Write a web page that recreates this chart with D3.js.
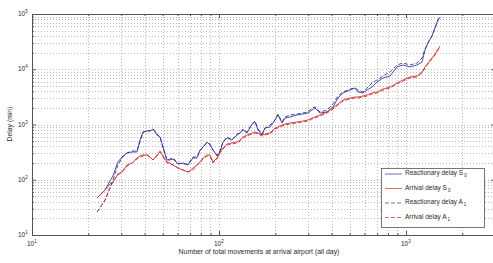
<!DOCTYPE html>
<html><head><meta charset="utf-8">
<script src="https://cdn.jsdelivr.net/npm/d3@7"></script>
<style>
body{margin:0;background:#fff}
svg text{font-family:"Liberation Sans",Arial,sans-serif;fill:#2a2a2a}
</style>
</head><body>
<svg id="c" width="493" height="263"></svg>
<script>
// Number of total movements at arrival airport (all day)
const movements = [22.3,24.6,26.1,27.1,28.8,30.3,32.2,34.3,36.4,37.8,39.2,41.2,42.8,44.4,46.6,48.4,50.2,52.7,54.7,56.8,60.3,64.2,68.3,72.6,76.3,79.1,82.1,86.3,89.5,92.9,97.6,101.2,105,110.4,117.4,124.9,129.6,134.4,141.2,150.2,155.8,161.7,169.8,176.2,187.4,199.3,206.8,217.3,225.5,239.8,261.3,281.4,299.2,314.4,326.2,346.8,378.1,407.1,432.9,460.3,501.7,533.8,553.9,589,618.6,658,699.7,753.4,821.1,895.2,963.9,1050.5,1145,1218,1264,1311,1377,1429,1483,1520];
// Delay (min)
const reactionaryS0 = [47,65,95,117,210,258,305,318,318,524,732,763,763,829,646,594,392,228,228,237,193,201,185,248,248,346,392,482,426,346,269,318,482,570,524,646,702,795,702,1021,1110,795,646,864,901,1206,1486,1064,1311,1367,1486,1549,1615,1830,1989,1615,1684,2074,3017,3717,4210,4577,3875,3717,4210,4772,5878,6944,7548,10980,11940,10980,11940,13530,22300,30000,40000,55800,78000,88000];
const arrivalS0 = [47,65,84,91,127,138,185,201,248,269,281,281,258,228,281,331,269,210,201,185,163,150,138,163,185,210,248,281,281,210,248,318,376,444,463,482,524,594,646,702,732,702,646,673,702,864,901,979,1021,1064,1110,1157,1206,1311,1367,1486,1684,1989,2350,2776,3017,3146,3146,3280,3420,3717,3875,4390,4772,5638,6391,7240,7548,8917,10980,12970,15980,18880,23260,26350];
const reactionaryA1 = [26,43,71,99,185,248,305,331,331,482,702,795,763,829,673,594,376,228,237,248,201,193,193,258,258,331,392,463,444,346,281,331,482,594,524,673,702,829,732,1021,1157,829,673,864,979,1206,1549,1110,1367,1486,1549,1615,1684,1989,2074,1684,1830,2350,3280,3875,4390,4577,4210,3875,4577,5638,6391,7548,8917,11940,12970,11940,12970,15980,23260,30000,40000,55800,78000,88000];
const arrivalA1 = [26,43,71,91,122,138,177,201,237,258,269,281,258,228,269,318,258,201,193,185,163,150,138,150,185,201,237,269,269,201,237,305,360,426,444,463,503,570,619,673,702,673,619,646,673,829,864,940,979,1021,1064,1110,1157,1257,1311,1425,1615,1908,2254,2663,2894,3017,3017,3146,3280,3565,3717,4210,4577,5408,6128,6944,7240,8555,10534,12450,15330,18110,22300,25280];

const seriesLabels = ["Reactionary delay S","Arrival delay S","Reactionary delay A","Arrival delay A"];
const seriesSubscripts = ["0","0","1","1"];
const xTickExponents = [1,2,3];
const yTickExponents = [1,2,3,4,5];

const seriesData = [reactionaryS0, arrivalS0, reactionaryA1, arrivalA1];
const seriesColor = ["#2b3391","#cc2b2b","#2b3391","#cc2b2b"];
const seriesDash = [null,null,"4,2","4,2"];

const svg = d3.select("#c");
const L = 32, T = 14, B = 235;
const x = d3.scaleLog().domain([10, 3000]).range([L, L + 187 * Math.log10(300)]);
const y = d3.scaleLog().domain([10, 1e5]).range([B, T]);
const R = x.range()[1];

// grid
const g = svg.append("g");
const xt = x.ticks(), yt = y.ticks();
g.selectAll(".gx").data(xt.filter(v => v > 10)).join("line")
  .attr("x1", d => Math.round(x(d)) + 0.5).attr("x2", d => Math.round(x(d)) + 0.5)
  .attr("y1", T).attr("y2", B)
  .attr("stroke", "#a8a8a8").attr("stroke-width", 0.8).attr("stroke-dasharray", "1,2");
g.selectAll(".gy").data(yt.filter(v => v > 10 && v < 1e5)).join("line")
  .attr("y1", d => Math.round(y(d)) + 0.5).attr("y2", d => Math.round(y(d)) + 0.5)
  .attr("x1", L).attr("x2", R)
  .attr("stroke", "#a8a8a8").attr("stroke-width", 0.8).attr("stroke-dasharray", "1,2");

// axes
const isMajor = v => Math.abs(Math.log10(v) - Math.round(Math.log10(v))) < 1e-9;
function styleAxis(sel) {
  sel.select(".domain").attr("stroke", "#555");
  sel.selectAll(".tick line").attr("stroke", "#555")
    .attr("y2", function(d){ const v = +d3.select(this).attr("y2"); return v ? (isMajor(d) ? v : v/2) : v; })
    .attr("x2", function(d){ const v = +d3.select(this).attr("x2"); return v ? (isMajor(d) ? v : v/2) : v; });
  sel.selectAll(".tick text").remove();
}
svg.append("g").attr("transform", `translate(0,${B})`)
  .call(d3.axisBottom(x).tickValues(xt).tickSize(-4).tickSizeOuter(0)).call(styleAxis);
svg.append("g").attr("transform", `translate(0,${T})`)
  .call(d3.axisTop(x).tickValues(xt).tickSize(-4).tickSizeOuter(0)).call(styleAxis);
svg.append("g").attr("transform", `translate(${L},0)`)
  .call(d3.axisLeft(y).tickValues(yt).tickSize(-4).tickSizeOuter(0)).call(styleAxis);
svg.append("g").attr("transform", `translate(${R},0)`)
  .call(d3.axisRight(y).tickValues(yt).tickSize(-4).tickSizeOuter(0)).call(styleAxis);

// tick labels with superscripts
xTickExponents.forEach(e => {
  const t = svg.append("text").attr("x", x(Math.pow(10, e)) - 5).attr("y", B + 11)
    .attr("font-size", 6.5);
  t.append("tspan").text("10");
  t.append("tspan").attr("dy", -3).attr("font-size", 4.5).text(e);
});
yTickExponents.forEach(e => {
  const t = svg.append("text").attr("x", L - 14).attr("y", y(Math.pow(10, e)) + 2)
    .attr("font-size", 6.5);
  t.append("tspan").text("10");
  t.append("tspan").attr("dy", -3).attr("font-size", 4.5).text(e);
});

// lines
const line = d3.line().x((d, i) => x(movements[i])).y(d => y(d));
const plot = svg.append("g");
seriesData.forEach((s, k) => {
  plot.append("path").datum(s).attr("d", line)
    .attr("fill", "none").attr("stroke", seriesColor[k]).attr("stroke-width", 1)
    .attr("stroke-dasharray", seriesDash[k]).attr("stroke-opacity", 0.85);
});

// axis labels
svg.append("text").attr("x", 259).attr("y", 254).attr("text-anchor", "middle")
  .attr("font-size", 6.9).text("Number of total movements at arrival airport (all day)");
svg.append("text").attr("transform", "translate(12,124) rotate(-90)").attr("text-anchor", "middle")
  .attr("font-size", 6.8).text("Delay (min)");

// legend
const lg = svg.append("g");
lg.append("rect").attr("x", 381.5).attr("y", 168.5).attr("width", 103).attr("height", 59)
  .attr("fill", "#fff").attr("stroke", "#555").attr("stroke-width", 0.8);
seriesLabels.forEach((lab, k) => {
  const yy = 174 + k * 14.5;
  lg.append("line").attr("x1", 385).attr("x2", 402).attr("y1", yy).attr("y2", yy)
    .attr("stroke", seriesColor[k]).attr("stroke-width", 1).attr("stroke-dasharray", seriesDash[k])
    .attr("stroke-opacity", 0.7);
  const t = lg.append("text").attr("x", 405).attr("y", yy + 1).attr("font-size", 6.5);
  t.append("tspan").text(lab);
  t.append("tspan").attr("dy", 2).attr("dx", 1).attr("font-size", 4.5).text(seriesSubscripts[k]);
});
</script>
</body></html>
